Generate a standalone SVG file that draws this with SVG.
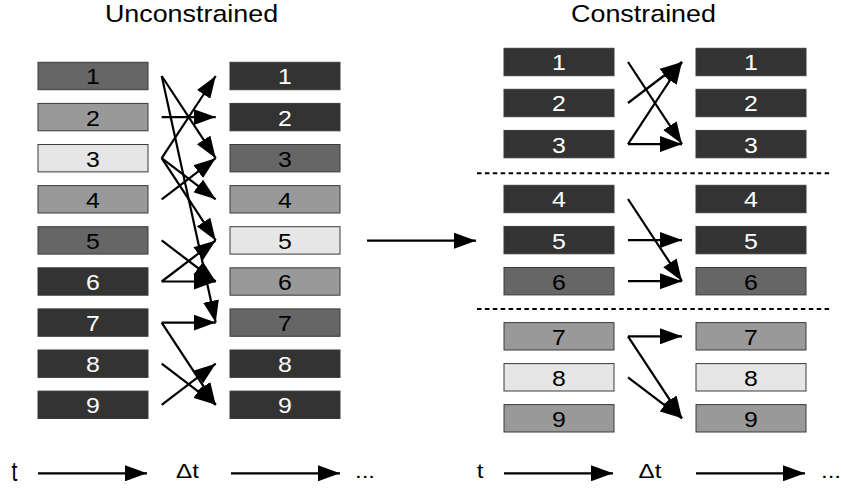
<svg xmlns="http://www.w3.org/2000/svg" width="841" height="491" viewBox="0 0 841 491">
<style>
.box{stroke:#3a3a3a;stroke-width:1}
.c3{fill:#333333}.c6{fill:#666666}.c9{fill:#999999}.ce{fill:#e6e6e6}
.lbl{font-family:"Liberation Sans",Arial,sans-serif;font-size:22px;text-anchor:middle;fill:#000}
.w{fill:#fff}
.ttl{font-family:"Liberation Sans",Arial,sans-serif;font-size:24px;text-anchor:middle;fill:#000}
.tm{font-family:"Liberation Sans",Arial,sans-serif;font-size:21px;text-anchor:middle;fill:#000}
.ar{stroke:#000;stroke-width:2.2;fill:none;marker-end:url(#ah)}
.dash{stroke:#000;stroke-width:2;stroke-dasharray:4.5 3.4}
</style>
<defs>
<marker id="ah" markerUnits="userSpaceOnUse" markerWidth="22" markerHeight="16" refX="22" refY="8" orient="auto" viewBox="0 0 22 16">
<path d="M0,0 L22,8 L0,16 z" fill="#000"/>
</marker>
</defs>
<rect width="841" height="491" fill="#fff"/>

<text class="ttl" transform="translate(191.5,21.5) scale(1.12,1)">Unconstrained</text>
<text class="ttl" transform="translate(643.5,21.5) scale(1.12,1)">Constrained</text>

<!-- Unconstrained, time t -->
<g id="uL1"><rect class="box c6" x="38" y="62.3" width="110" height="27.4"/><text class="lbl" transform="translate(93,84.4) scale(1.13,1)">1</text></g>
<g id="uL2"><rect class="box c9" x="38" y="103.4" width="110" height="27.4"/><text class="lbl" transform="translate(93,125.5) scale(1.13,1)">2</text></g>
<g id="uL3"><rect class="box ce" x="38" y="144.5" width="110" height="27.4"/><text class="lbl" transform="translate(93,166.6) scale(1.13,1)">3</text></g>
<g id="uL4"><rect class="box c9" x="38" y="185.6" width="110" height="27.4"/><text class="lbl" transform="translate(93,207.7) scale(1.13,1)">4</text></g>
<g id="uL5"><rect class="box c6" x="38" y="226.7" width="110" height="27.4"/><text class="lbl" transform="translate(93,248.8) scale(1.13,1)">5</text></g>
<g id="uL6"><rect class="box c3" x="38" y="267.8" width="110" height="27.4"/><text class="lbl w" transform="translate(93,289.9) scale(1.13,1)">6</text></g>
<g id="uL7"><rect class="box c3" x="38" y="308.9" width="110" height="27.4"/><text class="lbl w" transform="translate(93,331) scale(1.13,1)">7</text></g>
<g id="uL8"><rect class="box c3" x="38" y="350" width="110" height="27.4"/><text class="lbl w" transform="translate(93,372.1) scale(1.13,1)">8</text></g>
<g id="uL9"><rect class="box c3" x="38" y="391.1" width="110" height="27.4"/><text class="lbl w" transform="translate(93,413.2) scale(1.13,1)">9</text></g>

<!-- Unconstrained, time t+dt -->
<g id="uR1"><rect class="box c3" x="230" y="62.3" width="110" height="27.4"/><text class="lbl w" transform="translate(285,84.4) scale(1.13,1)">1</text></g>
<g id="uR2"><rect class="box c3" x="230" y="103.4" width="110" height="27.4"/><text class="lbl w" transform="translate(285,125.5) scale(1.13,1)">2</text></g>
<g id="uR3"><rect class="box c6" x="230" y="144.5" width="110" height="27.4"/><text class="lbl" transform="translate(285,166.6) scale(1.13,1)">3</text></g>
<g id="uR4"><rect class="box c9" x="230" y="185.6" width="110" height="27.4"/><text class="lbl" transform="translate(285,207.7) scale(1.13,1)">4</text></g>
<g id="uR5"><rect class="box ce" x="230" y="226.7" width="110" height="27.4"/><text class="lbl" transform="translate(285,248.8) scale(1.13,1)">5</text></g>
<g id="uR6"><rect class="box c9" x="230" y="267.8" width="110" height="27.4"/><text class="lbl" transform="translate(285,289.9) scale(1.13,1)">6</text></g>
<g id="uR7"><rect class="box c6" x="230" y="308.9" width="110" height="27.4"/><text class="lbl" transform="translate(285,331) scale(1.13,1)">7</text></g>
<g id="uR8"><rect class="box c3" x="230" y="350" width="110" height="27.4"/><text class="lbl w" transform="translate(285,372.1) scale(1.13,1)">8</text></g>
<g id="uR9"><rect class="box c3" x="230" y="391.1" width="110" height="27.4"/><text class="lbl w" transform="translate(285,413.2) scale(1.13,1)">9</text></g>

<!-- Constrained, time t -->
<g id="cL1"><rect class="box c3" x="504" y="48.3" width="110" height="27.4"/><text class="lbl w" transform="translate(559,70.4) scale(1.13,1)">1</text></g>
<g id="cL2"><rect class="box c3" x="504" y="89.3" width="110" height="27.4"/><text class="lbl w" transform="translate(559,111.4) scale(1.13,1)">2</text></g>
<g id="cL3"><rect class="box c3" x="504" y="130.4" width="110" height="27.4"/><text class="lbl w" transform="translate(559,152.5) scale(1.13,1)">3</text></g>
<g id="cL4"><rect class="box c3" x="504" y="185.3" width="110" height="27.4"/><text class="lbl w" transform="translate(559,207.4) scale(1.13,1)">4</text></g>
<g id="cL5"><rect class="box c3" x="504" y="226.4" width="110" height="27.4"/><text class="lbl w" transform="translate(559,248.5) scale(1.13,1)">5</text></g>
<g id="cL6"><rect class="box c6" x="504" y="267.5" width="110" height="27.4"/><text class="lbl" transform="translate(559,289.6) scale(1.13,1)">6</text></g>
<g id="cL7"><rect class="box c9" x="504" y="322.6" width="110" height="27.4"/><text class="lbl" transform="translate(559,344.7) scale(1.13,1)">7</text></g>
<g id="cL8"><rect class="box ce" x="504" y="363.6" width="110" height="27.4"/><text class="lbl" transform="translate(559,385.7) scale(1.13,1)">8</text></g>
<g id="cL9"><rect class="box c9" x="504" y="404.6" width="110" height="27.4"/><text class="lbl" transform="translate(559,426.7) scale(1.13,1)">9</text></g>

<!-- Constrained, time t+dt -->
<g id="cR1"><rect class="box c3" x="696" y="48.3" width="110" height="27.4"/><text class="lbl w" transform="translate(751,70.4) scale(1.13,1)">1</text></g>
<g id="cR2"><rect class="box c3" x="696" y="89.3" width="110" height="27.4"/><text class="lbl w" transform="translate(751,111.4) scale(1.13,1)">2</text></g>
<g id="cR3"><rect class="box c3" x="696" y="130.4" width="110" height="27.4"/><text class="lbl w" transform="translate(751,152.5) scale(1.13,1)">3</text></g>
<g id="cR4"><rect class="box c3" x="696" y="185.3" width="110" height="27.4"/><text class="lbl w" transform="translate(751,207.4) scale(1.13,1)">4</text></g>
<g id="cR5"><rect class="box c3" x="696" y="226.4" width="110" height="27.4"/><text class="lbl w" transform="translate(751,248.5) scale(1.13,1)">5</text></g>
<g id="cR6"><rect class="box c6" x="696" y="267.5" width="110" height="27.4"/><text class="lbl" transform="translate(751,289.6) scale(1.13,1)">6</text></g>
<g id="cR7"><rect class="box c9" x="696" y="322.6" width="110" height="27.4"/><text class="lbl" transform="translate(751,344.7) scale(1.13,1)">7</text></g>
<g id="cR8"><rect class="box ce" x="696" y="363.6" width="110" height="27.4"/><text class="lbl" transform="translate(751,385.7) scale(1.13,1)">8</text></g>
<g id="cR9"><rect class="box c9" x="696" y="404.6" width="110" height="27.4"/><text class="lbl" transform="translate(751,426.7) scale(1.13,1)">9</text></g>

<!-- group separators -->
<g id="separators">
<line class="dash" x1="477" y1="173.3" x2="832" y2="173.3"/>
<line class="dash" x1="477" y1="309" x2="832" y2="309"/>
</g>

<g id="connectors">
<!-- unconstrained -->
<line class="ar" x1="161.7" y1="76" x2="215.7" y2="158.2"/>
<line class="ar" x1="161.7" y1="76" x2="215.7" y2="322.6"/>
<line class="ar" x1="161.7" y1="117.1" x2="215.7" y2="117.1"/>
<line class="ar" x1="161.7" y1="158.2" x2="215.7" y2="76"/>
<line class="ar" x1="161.7" y1="158.2" x2="215.7" y2="199.3"/>
<line class="ar" x1="161.7" y1="158.2" x2="215.7" y2="240.4"/>
<line class="ar" x1="161.7" y1="199.3" x2="215.7" y2="158.2"/>
<line class="ar" x1="161.7" y1="240.4" x2="215.7" y2="281.5"/>
<line class="ar" x1="161.7" y1="281.5" x2="215.7" y2="240.4"/>
<line class="ar" x1="161.7" y1="281.5" x2="215.7" y2="281.5"/>
<line class="ar" x1="161.7" y1="322.6" x2="215.7" y2="322.6"/>
<line class="ar" x1="161.7" y1="322.6" x2="215.7" y2="404.8"/>
<line class="ar" x1="161.7" y1="363.7" x2="215.7" y2="404.8"/>
<line class="ar" x1="161.7" y1="404.8" x2="215.7" y2="363.7"/>
<!-- constrained -->
<line class="ar" x1="628" y1="62" x2="682" y2="144.1"/>
<line class="ar" x1="628" y1="103" x2="682" y2="62"/>
<line class="ar" x1="628" y1="144.1" x2="682" y2="62"/>
<line class="ar" x1="628" y1="144.1" x2="682" y2="144.1"/>
<line class="ar" x1="628" y1="199" x2="682" y2="281.2"/>
<line class="ar" x1="628" y1="240.1" x2="682" y2="240.1"/>
<line class="ar" x1="628" y1="281.2" x2="682" y2="281.2"/>
<line class="ar" x1="628" y1="336.3" x2="682" y2="336.3"/>
<line class="ar" x1="628" y1="336.3" x2="682" y2="418.3"/>
<line class="ar" x1="628" y1="377.3" x2="682" y2="418.3"/>
<!-- middle transition -->
<line class="ar" x1="367" y1="240.7" x2="476" y2="240.7"/>
<!-- time axes -->
<line class="ar" x1="38" y1="473.3" x2="147" y2="473.3"/>
<line class="ar" x1="231" y1="473.3" x2="340" y2="473.3"/>
<line class="ar" x1="504" y1="473.3" x2="613" y2="473.3"/>
<line class="ar" x1="696" y1="473.3" x2="805" y2="473.3"/>
</g>

<g id="time-labels">
<text class="tm" transform="translate(14.5,480.7) scale(1.0,1.3)">t</text>
<text class="tm" transform="translate(187.5,478) scale(1.15,1)">Δt</text>
<text class="tm" transform="translate(365,478) scale(1.15,1)">...</text>
<text class="tm" transform="translate(480,477.5) scale(1.15,1)">t</text>
<text class="tm" transform="translate(650,478) scale(1.15,1)">Δt</text>
<text class="tm" transform="translate(831,478) scale(1.15,1)">...</text>
</g>
</svg>
